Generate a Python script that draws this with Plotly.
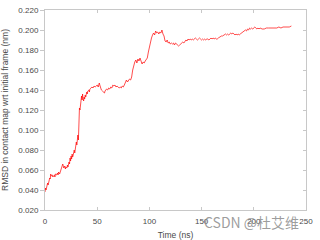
import plotly.graph_objects as go

time_ns = [0, 0.5, 1, 1.5, 2, 2.5, 3, 3.5, 4, 4.5, 5, 5.5, 6, 7, 7.5, 8, 9, 9.5, 10, 11, 12, 12.5, 13, 14, 15, 16, 17, 17.5, 18, 19, 19.5, 20, 21, 21.5, 22, 23, 23.5, 24, 24.5, 25, 25.5, 26, 26.5, 27, 27.5, 28, 28.5, 29, 29.5, 30, 30.5, 31, 31.5, 32, 32.5, 33, 33.5, 34, 34.5, 35, 35.5, 36, 36.5, 37, 37.5, 38, 38.5, 39, 40, 40.5, 41, 42, 42.5, 43, 44, 45, 46, 47, 48, 49, 50, 51, 52, 52.5, 53, 54, 55, 56, 57, 57.5, 58, 59, 60, 61, 62, 63, 64, 65, 66, 67, 68, 69, 70, 71, 72, 73, 74, 75, 76, 77, 78, 79, 80, 81, 82, 83, 84, 85, 86, 87, 88, 89, 90, 91, 92, 93, 94, 95, 96, 97, 98, 99, 100, 101, 102, 103, 104, 105, 106, 107, 108, 109, 110, 111, 112, 113, 114, 115, 116, 117, 118, 119, 120, 121, 122, 123, 124, 125, 126, 127, 128, 129, 130, 131, 132, 133, 134, 135, 136, 137, 138, 139, 140, 141, 142, 143, 144, 145, 146, 147, 148, 149, 150, 151, 152, 153, 154, 155, 156, 157, 158, 159, 160, 161, 162, 163, 164, 165, 166, 167, 168, 169, 170, 171, 172, 173, 174, 175, 176, 177, 178, 179, 180, 181, 182, 183, 184, 185, 186, 187, 188, 189, 190, 191, 192, 193, 194, 195, 196, 197, 198, 199, 200, 201, 202, 203, 204, 205, 206, 208, 210, 212, 214, 216, 218, 220, 222, 224, 226, 228, 230, 232, 234, 236]

rmsd_nm = [0.038, 0.042, 0.040, 0.044, 0.043, 0.047, 0.045, 0.049, 0.048, 0.052, 0.051, 0.056, 0.054, 0.055, 0.053, 0.054, 0.055, 0.053, 0.056, 0.055, 0.057, 0.055, 0.058, 0.056, 0.060, 0.063, 0.066, 0.064, 0.062, 0.064, 0.061, 0.063, 0.062, 0.065, 0.063, 0.068, 0.066, 0.072, 0.069, 0.074, 0.071, 0.076, 0.073, 0.075, 0.078, 0.080, 0.077, 0.081, 0.084, 0.088, 0.085, 0.092, 0.095, 0.090, 0.110, 0.122, 0.120, 0.128, 0.125, 0.134, 0.130, 0.136, 0.131, 0.129, 0.133, 0.131, 0.135, 0.133, 0.138, 0.136, 0.139, 0.140, 0.138, 0.141, 0.142, 0.143, 0.142, 0.144, 0.143, 0.144, 0.145, 0.143, 0.147, 0.145, 0.142, 0.140, 0.139, 0.138, 0.137, 0.139, 0.140, 0.141, 0.140, 0.142, 0.141, 0.143, 0.142, 0.145, 0.144, 0.145, 0.143, 0.144, 0.143, 0.142, 0.143, 0.142, 0.144, 0.143, 0.145, 0.147, 0.150, 0.148, 0.149, 0.151, 0.150, 0.153, 0.160, 0.165, 0.168, 0.170, 0.167, 0.171, 0.169, 0.172, 0.168, 0.166, 0.168, 0.167, 0.169, 0.170, 0.172, 0.178, 0.183, 0.189, 0.192, 0.195, 0.197, 0.195, 0.199, 0.197, 0.198, 0.196, 0.198, 0.197, 0.200, 0.196, 0.194, 0.189, 0.188, 0.190, 0.187, 0.188, 0.186, 0.187, 0.186, 0.187, 0.185, 0.187, 0.186, 0.185, 0.184, 0.185, 0.186, 0.187, 0.188, 0.187, 0.189, 0.190, 0.189, 0.191, 0.190, 0.191, 0.190, 0.191, 0.190, 0.191, 0.192, 0.191, 0.190, 0.191, 0.192, 0.191, 0.190, 0.191, 0.190, 0.191, 0.190, 0.191, 0.191, 0.190, 0.191, 0.192, 0.191, 0.192, 0.191, 0.192, 0.191, 0.191, 0.192, 0.193, 0.193, 0.194, 0.194, 0.195, 0.195, 0.196, 0.195, 0.196, 0.195, 0.196, 0.197, 0.196, 0.197, 0.196, 0.195, 0.196, 0.195, 0.196, 0.195, 0.196, 0.197, 0.198, 0.198, 0.199, 0.200, 0.199, 0.201, 0.200, 0.202, 0.201, 0.202, 0.201, 0.202, 0.203, 0.202, 0.201, 0.202, 0.201, 0.202, 0.201, 0.201, 0.202, 0.202, 0.202, 0.202, 0.202, 0.202, 0.203, 0.202, 0.203, 0.203, 0.203, 0.203, 0.204]

x_ticks = [0, 50, 100, 150, 200, 250]
y_ticks = [0.020, 0.040, 0.060, 0.080, 0.100, 0.120, 0.140, 0.160, 0.180, 0.200, 0.220]
y_tick_text = ["%.3f" % v for v in y_ticks]

font_family = "Liberation Sans, Arial, sans-serif"
axis_col = "#c8c8c8"
text_col = "#4a4a4a"

fig = go.Figure()
fig.add_trace(go.Scatter(x=time_ns, y=rmsd_nm, mode="lines",
                         line=dict(color="#ff0000", width=0.7),
                         showlegend=False, hoverinfo="skip"))
fig.add_trace(go.Scatter(x=[None], y=[None], yaxis="y2", showlegend=False,
                         hoverinfo="skip"))

fig.update_layout(
    width=320, height=240,
    margin=dict(l=45, r=14, t=10, b=30),
    paper_bgcolor="white", plot_bgcolor="white",
    font=dict(family=font_family, size=8, color=text_col),
    xaxis=dict(range=[0, 250], tickvals=x_ticks, ticks="inside", ticklen=3,
               tickcolor=axis_col, showline=True, linecolor=axis_col,
               linewidth=1, mirror="ticks", showgrid=False, zeroline=False,
               ticklabelstandoff=3, automargin=False,
               title=dict(text="Time (ns)", font=dict(size=8.5))),
    yaxis=dict(range=[0.02, 0.22], tickvals=y_ticks, ticktext=y_tick_text,
               ticks="outside", ticklen=4, tickcolor=axis_col, showline=True,
               linecolor=axis_col, linewidth=1, showgrid=False, zeroline=False,
               automargin=False,
               title=dict(text="RMSD in contact map wrt initial frame (nm)",
                          font=dict(size=8.5))),
    yaxis2=dict(range=[0.02, 0.22], tickvals=y_ticks, overlaying="y",
                side="right", ticks="inside", ticklen=3, tickcolor=axis_col,
                showticklabels=False, showline=True, linecolor=axis_col,
                linewidth=1, showgrid=False, zeroline=False, automargin=False),
)

fig.add_annotation(text="CSDN @杜艾维", xref="paper", yref="paper",
                   x=0.79, y=-0.06, xanchor="center", yanchor="middle",
                   showarrow=False,
                   font=dict(family="Noto Sans CJK SC, sans-serif", size=14,
                             color="rgba(140,140,140,0.85)"))

fig.write_html("out.html")
